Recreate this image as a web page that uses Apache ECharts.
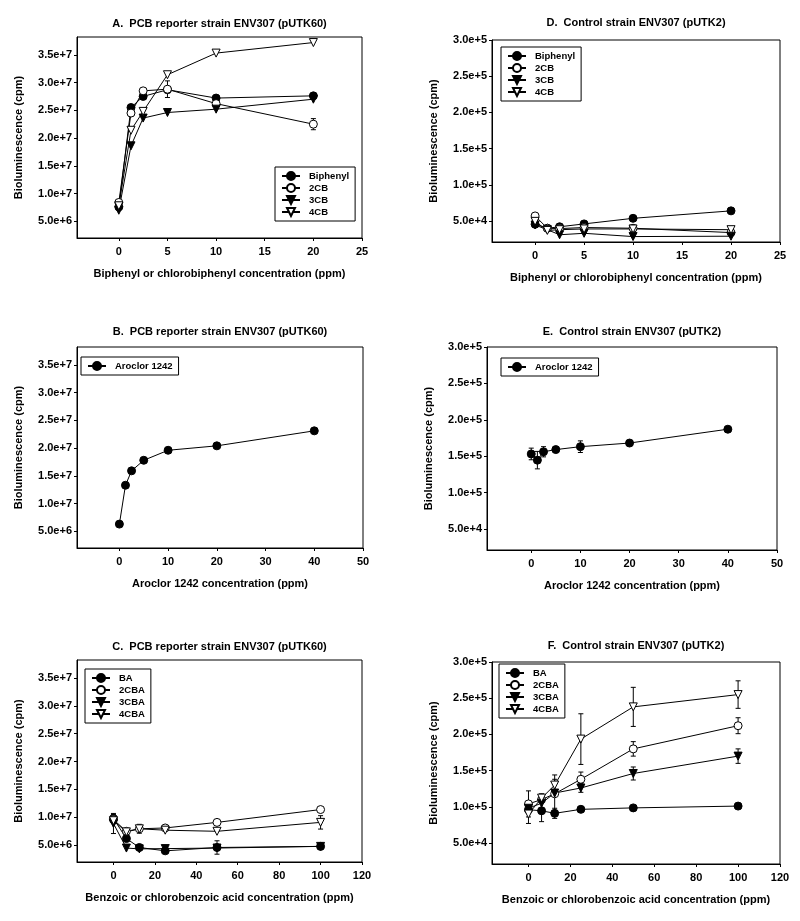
<!DOCTYPE html>
<html>
<head>
<meta charset="utf-8">
<script src="https://cdn.jsdelivr.net/npm/echarts@6/dist/echarts.min.js"></script>
<style>
  html, body { margin: 0; padding: 0; background: #fff; }
  #main { width: 800px; height: 921px; }
</style>
</head>
<body>
<div id="main"></div>
<script>
// concentrations (ppm)
var xBiphenyl = [0, 1.25, 2.5, 5, 10, 20];
var xAroclor = [0, 1.25, 2.5, 5, 10, 20, 40];
var xBenzoic = [0, 6.25, 12.5, 25, 50, 100];

// tick values
var xTicks25 = [0, 5, 10, 15, 20, 25];
var xTicks50 = [0, 10, 20, 30, 40, 50];
var xTicks120 = [0, 20, 40, 60, 80, 100, 120];
var yTicks60 = [5e6, 1e7, 1.5e7, 2e7, 2.5e7, 3e7, 3.5e7];
var yTicks2 = [5e4, 1e5, 1.5e5, 2e5, 2.5e5, 3e5];

// A. pUTK60, biphenyl / chlorobiphenyls
var aBiphenyl = [7.6e6, 2.55e7, 2.75e7, 2.87e7, 2.72e7, 2.76e7];
var a2CB = [8.4e6, 2.45e7, 2.85e7, 2.88e7, 2.62e7, 2.25e7];
var a2CBErr = [0, 0, 0, 1.5e6, 0, 1e6];
var a3CB = [7.0e6, 1.86e7, 2.36e7, 2.46e7, 2.52e7, 2.7e7];
var a4CB = [7.8e6, 2.14e7, 2.48e7, 3.14e7, 3.53e7, 3.72e7];

// D. pUTK2, biphenyl / chlorobiphenyls
var dBiphenyl = [4.55e4, 4.0e4, 4.2e4, 4.6e4, 5.37e4, 6.4e4];
var d2CB = [5.7e4, 4.0e4, 3.95e4, 4.1e4, 4.0e4, 3.4e4];
var d3CB = [4.45e4, 3.8e4, 3.1e4, 3.3e4, 2.85e4, 2.9e4];
var d4CB = [4.95e4, 3.7e4, 3.8e4, 3.9e4, 3.9e4, 3.8e4];

// B. pUTK60, Aroclor 1242
var bAroclor = [6.3e6, 1.33e7, 1.59e7, 1.78e7, 1.96e7, 2.04e7, 2.31e7];

// E. pUTK2, Aroclor 1242
var eAroclor = [1.53e5, 1.445e5, 1.56e5, 1.59e5, 1.63e5, 1.68e5, 1.87e5];
var eAroclorErr = [8e3, 1.2e4, 7e3, 0, 8e3, 0, 0];

// C. pUTK60, benzoic / chlorobenzoic acids
var cBA = [9.8e6, 6.2e6, 4.6e6, 4.0e6, 4.6e6, 4.8e6];
var cBAErr = [7e5, 0, 0, 0, 1.2e6, 0];
var c2CBA = [9.6e6, 7.5e6, 7.95e6, 8.1e6, 9.1e6, 1.14e7];
var c2CBAErr = [0, 0, 0, 0, 0, 5e5];
var c3CBA = [8.9e6, 4.5e6, 4.35e6, 4.4e6, 4.5e6, 4.8e6];
var c3CBAErr = [1.8e6, 0, 0, 0, 0, 0];
var c4CBA = [9.4e6, 7.4e6, 7.95e6, 7.7e6, 7.5e6, 9.1e6];
var c4CBAErr = [0, 0, 8e5, 0, 0, 1.2e6];

// F. pUTK2, benzoic / chlorobenzoic acids
var fBA = [9.6e4, 9.45e4, 9.1e4, 9.65e4, 9.85e4, 1.01e5];
var fBAErr = [0, 1.5e4, 7e3, 0, 0, 0];
var f2CBA = [1.04e5, 1.1e5, 1.18e5, 1.38e5, 1.8e5, 2.12e5];
var f2CBAErr = [1.8e4, 0, 0, 1e4, 1e4, 1.1e4];
var f3CBA = [9.8e4, 1.05e5, 1.19e5, 1.26e5, 1.46e5, 1.7e5];
var f3CBAErr = [0, 0, 2.5e4, 6e3, 9e3, 1e4];
var f4CBA = [9.0e4, 1.12e5, 1.3e5, 1.935e5, 2.38e5, 2.55e5];
var f4CBAErr = [1.3e4, 6e3, 8e3, 3.5e4, 2.7e4, 1.9e4];

var FONT = '"Liberation Sans", Arial, sans-serif';

// marker looks: filled circle, open circle, filled down-triangle, open down-triangle
var markers = [
    {symbol: 'circle', rotate: 0, fill: '#000'},
    {symbol: 'circle', rotate: 0, fill: '#fff'},
    {symbol: 'triangle', rotate: 180, fill: '#000'},
    {symbol: 'triangle', rotate: 180, fill: '#fff'}
];

var panels = [
    {
        title: 'A.  PCB reporter strain ENV307 (pUTK60)', titleTop: 18,
        grid: {left: 77, top: 37, width: 285, height: 201},
        x: xBiphenyl, xMin: -4.3, xMax: 25, xTicks: xTicks25,
        yMin: 2e6, yMax: 3.82e7, yTicks: yTicks60,
        xName: 'Biphenyl or chlorobiphenyl concentration (ppm)',
        legend: {left: 275, top: 167},
        lines: [['Biphenyl', aBiphenyl, 0, null], ['2CB', a2CB, 1, a2CBErr], ['3CB', a3CB, 2, null], ['4CB', a4CB, 3, null]]
    },
    {
        title: 'D.  Control strain ENV307 (pUTK2)', titleTop: 17,
        grid: {left: 492, top: 40, width: 288, height: 202},
        x: xBiphenyl, xMin: -4.4, xMax: 25, xTicks: xTicks25,
        yMin: 2.1e4, yMax: 3e5, yTicks: yTicks2,
        xName: 'Biphenyl or chlorobiphenyl concentration (ppm)',
        legend: {left: 501, top: 47},
        lines: [['Biphenyl', dBiphenyl, 0, null], ['2CB', d2CB, 1, null], ['3CB', d3CB, 2, null], ['4CB', d4CB, 3, null]]
    },
    {
        title: 'B.  PCB reporter strain ENV307 (pUTK60)', titleTop: 326,
        grid: {left: 77, top: 347, width: 286, height: 201},
        x: xAroclor, xMin: -8.7, xMax: 50, xTicks: xTicks50,
        yMin: 2e6, yMax: 3.82e7, yTicks: yTicks60,
        xName: 'Aroclor 1242 concentration (ppm)',
        legend: {left: 81, top: 357},
        lines: [['Aroclor 1242', bAroclor, 0, null]]
    },
    {
        title: 'E.  Control strain ENV307 (pUTK2)', titleTop: 326,
        grid: {left: 487, top: 347, width: 290, height: 203},
        x: xAroclor, xMin: -9, xMax: 50, xTicks: xTicks50,
        yMin: 2.1e4, yMax: 3e5, yTicks: yTicks2,
        xName: 'Aroclor 1242 concentration (ppm)',
        legend: {left: 501, top: 358},
        lines: [['Aroclor 1242', eAroclor, 0, eAroclorErr]]
    },
    {
        title: 'C.  PCB reporter strain ENV307 (pUTK60)', titleTop: 641,
        grid: {left: 77, top: 660, width: 285, height: 202},
        x: xBenzoic, xMin: -17.6, xMax: 120, xTicks: xTicks120,
        yMin: 2e6, yMax: 3.82e7, yTicks: yTicks60,
        xName: 'Benzoic or chlorobenzoic acid concentration (ppm)',
        legend: {left: 85, top: 669},
        lines: [['BA', cBA, 0, cBAErr], ['2CBA', c2CBA, 1, c2CBAErr], ['3CBA', c3CBA, 2, c3CBAErr], ['4CBA', c4CBA, 3, c4CBAErr]]
    },
    {
        title: 'F.  Control strain ENV307 (pUTK2)', titleTop: 640,
        grid: {left: 492, top: 662, width: 288, height: 202},
        x: xBenzoic, xMin: -17.4, xMax: 120, xTicks: xTicks120,
        yMin: 2.1e4, yMax: 3e5, yTicks: yTicks2,
        xName: 'Benzoic or chlorobenzoic acid concentration (ppm)',
        legend: {left: 499, top: 664},
        lines: [['BA', fBA, 0, fBAErr], ['2CBA', f2CBA, 1, f2CBAErr], ['3CBA', f3CBA, 2, f3CBAErr], ['4CBA', f4CBA, 3, f4CBAErr]]
    }
];

function sci(v) {
    var exp = Math.floor(Math.log10(v) + 1e-9);
    return (v / Math.pow(10, exp)).toFixed(1) + 'e+' + exp;
}

function renderErr(params, api) {
    var x = api.value(0), y = api.value(1), e = api.value(2);
    var hi = api.coord([x, y + e]);
    var lo = api.coord([x, y - e]);
    var cap = 2.5;
    var st = {stroke: '#000', lineWidth: 1};
    return {
        type: 'group',
        children: [
            {type: 'line', shape: {x1: hi[0], y1: hi[1], x2: lo[0], y2: lo[1]}, style: st},
            {type: 'line', shape: {x1: hi[0] - cap, y1: hi[1], x2: hi[0] + cap, y2: hi[1]}, style: st},
            {type: 'line', shape: {x1: lo[0] - cap, y1: lo[1], x2: lo[0] + cap, y2: lo[1]}, style: st}
        ]
    };
}

var bold = {fontFamily: FONT, fontWeight: 'bold', color: '#000', fontSize: 11};
var titles = [], grids = [], xAxes = [], yAxes = [], legends = [], series = [];

for (let i = 0; i < panels.length; i++) {
    let p = panels[i];
    titles.push({
        text: p.title,
        left: p.grid.left + p.grid.width / 2,
        top: p.titleTop,
        textAlign: 'center',
        padding: 0,
        textStyle: bold
    });
    grids.push({
        left: p.grid.left, top: p.grid.top, width: p.grid.width, height: p.grid.height,
        show: true, borderColor: '#000', borderWidth: 1, backgroundColor: 'transparent'
    });
    xAxes.push({
        type: 'value', gridIndex: i, min: p.xMin, max: p.xMax,
        name: p.xName, nameLocation: 'middle', nameGap: 30, nameTextStyle: bold,
        axisLine: {onZero: false, lineStyle: {color: '#000', width: 1}},
        axisTick: {show: true, length: 3, customValues: p.xTicks, lineStyle: {color: '#000'}},
        axisLabel: {customValues: p.xTicks, margin: 8, fontFamily: FONT, fontWeight: 'bold', fontSize: 11, color: '#000'},
        splitLine: {show: false}
    });
    yAxes.push({
        type: 'value', gridIndex: i, min: p.yMin, max: p.yMax,
        name: 'Bioluminescence (cpm)', nameLocation: 'middle', nameGap: 53, nameTextStyle: bold,
        axisLine: {onZero: false, lineStyle: {color: '#000', width: 1}},
        axisTick: {show: true, length: 3, customValues: p.yTicks, lineStyle: {color: '#000'}},
        axisLabel: {customValues: p.yTicks, margin: 5, formatter: sci, fontFamily: FONT, fontWeight: 'bold', fontSize: 11, color: '#000'},
        splitLine: {show: false}
    });
    let names = [];
    for (let line of p.lines) {
        let name = line[0], ys = line[1], m = markers[line[2]], err = line[3];
        names.push(name);
        let pts = [];
        for (let k = 0; k < p.x.length; k++) pts.push([p.x[k], ys[k]]);
        series.push({
            type: 'line', name: name, xAxisIndex: i, yAxisIndex: i,
            data: pts, symbol: m.symbol, symbolSize: 8, symbolRotate: m.rotate,
            showAllSymbol: true,
            lineStyle: {color: '#000', width: 1},
            itemStyle: {color: m.fill, borderColor: '#000', borderWidth: 1},
            z: 3, animation: false
        });
        if (err) {
            let ed = [];
            for (let k = 0; k < p.x.length; k++) {
                if (err[k] > 0) ed.push([p.x[k], ys[k], err[k]]);
            }
            series.push({
                type: 'custom', xAxisIndex: i, yAxisIndex: i,
                renderItem: renderErr, data: ed, z: 2, silent: true, animation: false,
                encode: {x: 0, y: 1}
            });
        }
    }
    legends.push({
        data: names, orient: 'vertical',
        left: p.legend.left, top: p.legend.top,
        itemWidth: 18, itemHeight: 10, itemGap: 2,
        padding: [4, 6, 4, 6],
        borderColor: '#000', borderWidth: 1, backgroundColor: '#fff',
        textStyle: {fontFamily: FONT, fontWeight: 'bold', fontSize: 9.5, color: '#000', padding: [0, 0, 0, 4]},
        selectedMode: false
    });
}

var mychart = echarts.init(document.getElementById('main'));
mychart.setOption({
    animation: false,
    backgroundColor: '#fff',
    title: titles,
    grid: grids,
    xAxis: xAxes,
    yAxis: yAxes,
    legend: legends,
    series: series
});
</script>
</body>
</html>
